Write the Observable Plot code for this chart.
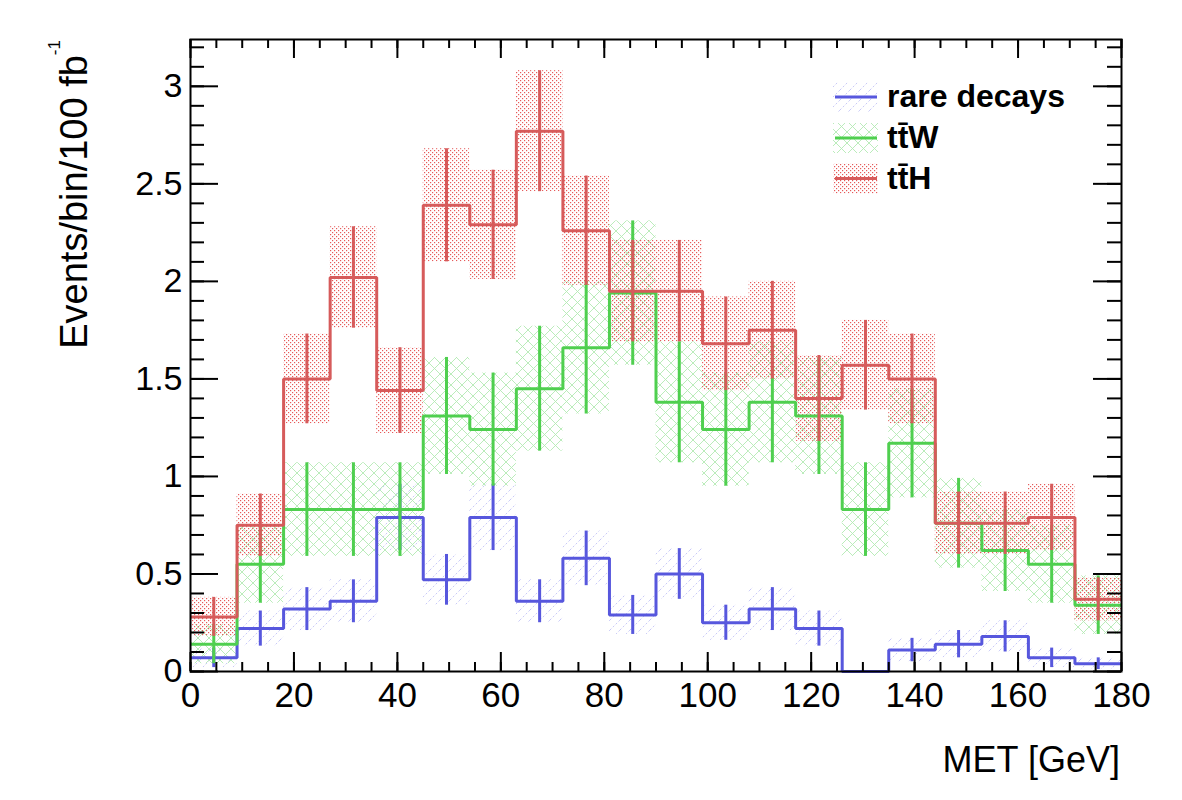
<!DOCTYPE html>
<html>
<head>
<meta charset="utf-8">
<script src="https://cdn.jsdelivr.net/npm/d3@7"></script>
<script src="https://cdn.jsdelivr.net/npm/@observablehq/plot@0.6"></script>
<style>
  html, body { margin: 0; padding: 0; background: #fff; overflow: hidden; }
  #chart svg { display: block; }
  g[aria-label^="x-axis"] text { font-size: 35px; }
  g[aria-label^="y-axis"] text { font-size: 34px; }
</style>
</head>
<body>
<div id="chart"></div>
<script>
// MET histogram, 20 bins of 9 GeV
const binEdges = [0, 9, 18, 27, 36, 45, 54, 63, 72, 81, 90, 99, 108, 117, 126, 135, 144, 153, 162, 171, 180];

// Events per bin per 100 fb^-1 and their statistical uncertainties
const rareDecays    = [0.07, 0.22, 0.32, 0.36, 0.79, 0.47, 0.79, 0.36, 0.58, 0.29, 0.50, 0.25, 0.32, 0.22, 0.00, 0.11, 0.14, 0.18, 0.07, 0.04];
const rareDecaysErr = [0.05, 0.09, 0.11, 0.11, 0.17, 0.13, 0.17, 0.11, 0.14, 0.10, 0.13, 0.09, 0.11, 0.09, 0.00, 0.06, 0.07, 0.08, 0.05, 0.03];
const ttW           = [0.14, 0.55, 0.83, 0.83, 0.83, 1.31, 1.24, 1.45, 1.66, 1.94, 1.38, 1.24, 1.38, 1.31, 0.83, 1.17, 0.76, 0.62, 0.55, 0.34];
const ttWErr        = [0.10, 0.20, 0.24, 0.24, 0.24, 0.30, 0.29, 0.32, 0.34, 0.37, 0.31, 0.29, 0.31, 0.30, 0.24, 0.28, 0.23, 0.21, 0.20, 0.15];
const ttH           = [0.28, 0.75, 1.50, 2.02, 1.44, 2.39, 2.29, 2.77, 2.26, 1.95, 1.95, 1.68, 1.75, 1.40, 1.57, 1.50, 0.76, 0.76, 0.79, 0.37];
const ttHErr        = [0.10, 0.16, 0.23, 0.26, 0.22, 0.29, 0.28, 0.31, 0.28, 0.26, 0.26, 0.24, 0.25, 0.22, 0.23, 0.23, 0.16, 0.16, 0.17, 0.11];

// Axis ticks
const xTicks = [0, 20, 40, 60, 80, 100, 120, 140, 160, 180];
const yTicks = [0, 0.5, 1, 1.5, 2, 2.5, 3];
const xMinor = d3.range(0, 181, 5);
const yMinor = d3.range(0, 3.21, 0.1);

const xTitle = "MET [GeV]";
const yTitle = "Events/bin/100 fb";
const yTitleSup = "-1";

const series = [
  {key: "rare", label: "rare decays", values: rareDecays, errors: rareDecaysErr, color: "#5757dd", pattern: "hatch-rare"},
  {key: "ttw", label: "tt\u0304W", values: ttW, errors: ttWErr, color: "#4fcf4f", pattern: "hatch-ttw"},
  {key: "tth", label: "tt\u0304H", values: ttH, errors: ttHErr, color: "#d65b5b", pattern: "dots-tth"}
];

const W = 1182, H = 800;
const mL = 190, mR = 61, mT = 39, mB = 129;
const innerW = W - mL - mR, innerH = H - mT - mB;

function binRows(s) {
  return s.values.map((v, i) => ({
    x1: binEdges[i], x2: binEdges[i + 1], xc: (binEdges[i] + binEdges[i + 1]) / 2,
    lo: v - s.errors[i], hi: v + s.errors[i], e: s.errors[i]
  })).filter(d => d.e > 0);
}
function stepRows(s) {
  return binEdges.map((x, i) => ({x, y: s.values[Math.min(i, s.values.length - 1)]}));
}

const marks = [];
// uncertainty bands
for (const s of series) {
  marks.push(Plot.rect(binRows(s), {x1: "x1", x2: "x2", y1: "lo", y2: "hi", fill: s.color, ariaDescription: "band-" + s.key}));
}
// histogram outlines and error bars
for (const s of series) {
  marks.push(Plot.line(stepRows(s), {x: "x", y: "y", curve: "step-after", stroke: s.color, strokeWidth: 3, strokeLinejoin: "miter", strokeLinecap: "butt"}));
  marks.push(Plot.ruleX(binRows(s), {x: "xc", y1: "lo", y2: "hi", stroke: s.color, strokeWidth: 3}));
}
// inward ticks on all four sides
const tk = {stroke: "black", strokeWidth: 2};
marks.push(
  Plot.tickY(yTicks, {y: d => d, insetRight: innerW - 28, ...tk}),
  Plot.tickY(yMinor, {y: d => d, insetRight: innerW - 14, ...tk}),
  Plot.tickY(yTicks, {y: d => d, insetLeft: innerW - 28, ...tk}),
  Plot.tickY(yMinor, {y: d => d, insetLeft: innerW - 14, ...tk}),
  Plot.tickX(xTicks, {x: d => d, insetTop: innerH - 19, ...tk}),
  Plot.tickX(xMinor, {x: d => d, insetTop: innerH - 9, ...tk}),
  Plot.tickX(xTicks, {x: d => d, insetBottom: innerH - 19, ...tk}),
  Plot.tickX(xMinor, {x: d => d, insetBottom: innerH - 9, ...tk}),
  Plot.frame({stroke: "black", strokeWidth: 2})
);

const plot = Plot.plot({
  width: W, height: H,
  marginLeft: mL, marginRight: mR, marginTop: mT, marginBottom: mB,
  style: {fontFamily: "'Liberation Sans', Arial, Helvetica, sans-serif", fontSize: "34px", color: "black", background: "white"},
  x: {domain: [0, 180], ticks: xTicks, tickSize: 0, tickPadding: 11, tickFormat: d => String(d), label: null},
  y: {domain: [0, 3.24], ticks: yTicks, tickSize: 0, tickPadding: 8, tickFormat: d => String(d), label: null},
  marks
});
document.getElementById("chart").appendChild(plot);

// Fill patterns for the uncertainty bands
const svg = d3.select(plot);
const defs = svg.insert("defs", ":first-child");
const dots = defs.append("pattern").attr("id", "dots-tth").attr("patternUnits", "userSpaceOnUse").attr("width", 4).attr("height", 4);
dots.append("rect").attr("x", 0).attr("y", 0).attr("width", 1.2).attr("height", 1.2).attr("fill", "#e65a5a");
dots.append("rect").attr("x", 2).attr("y", 2).attr("width", 1.2).attr("height", 1.2).attr("fill", "#e65a5a");
const cross = defs.append("pattern").attr("id", "hatch-ttw").attr("patternUnits", "userSpaceOnUse").attr("width", 11).attr("height", 11);
cross.append("path").attr("d", "M0,0L11,11M0,11L11,0").attr("stroke", "#b3eab3").attr("stroke-width", 0.9).attr("fill", "none");
const diag = defs.append("pattern").attr("id", "hatch-rare").attr("patternUnits", "userSpaceOnUse").attr("width", 10).attr("height", 10);
diag.append("path").attr("d", "M0,10L10,0").attr("stroke", "#c2c2f6").attr("stroke-width", 0.9).attr("stroke-dasharray", "2 2").attr("fill", "none");

for (const s of series) {
  const g = svg.select(`g[aria-description="band-${s.key}"]`);
  g.attr("fill", `url(#${s.pattern})`);
  g.selectAll("rect").attr("fill", `url(#${s.pattern})`);
}

// Axis titles
svg.append("text")
  .attr("x", 1120).attr("y", 772)
  .attr("text-anchor", "end")
  .attr("font-size", 36)
  .attr("fill", "black")
  .text(xTitle);
const yt = svg.append("text")
  .attr("transform", "translate(87,40) rotate(-90)")
  .attr("text-anchor", "end")
  .attr("font-size", 38)
  .attr("fill", "black");
yt.append("tspan").text(yTitle);
yt.append("tspan").attr("dy", -27).attr("font-size", 17).text(yTitleSup);

// Legend
const legend = svg.append("g")
  .attr("font-weight", "bold").attr("font-size", 32)
  .attr("text-anchor", "start").attr("fill", "black");
const legendY = [97, 138, 178.5];
series.forEach((s, i) => {
  const cy = legendY[i];
  legend.append("rect").attr("x", 833).attr("y", cy - 15).attr("width", 45).attr("height", 30).attr("fill", `url(#${s.pattern})`);
  legend.append("line").attr("x1", 835).attr("x2", 877).attr("y1", cy).attr("y2", cy).attr("stroke", s.color).attr("stroke-width", 3);
  legend.append("text").attr("x", 887).attr("y", cy + 10).attr("text-anchor", "start").text(s.label);
});
</script>
</body>
</html>
